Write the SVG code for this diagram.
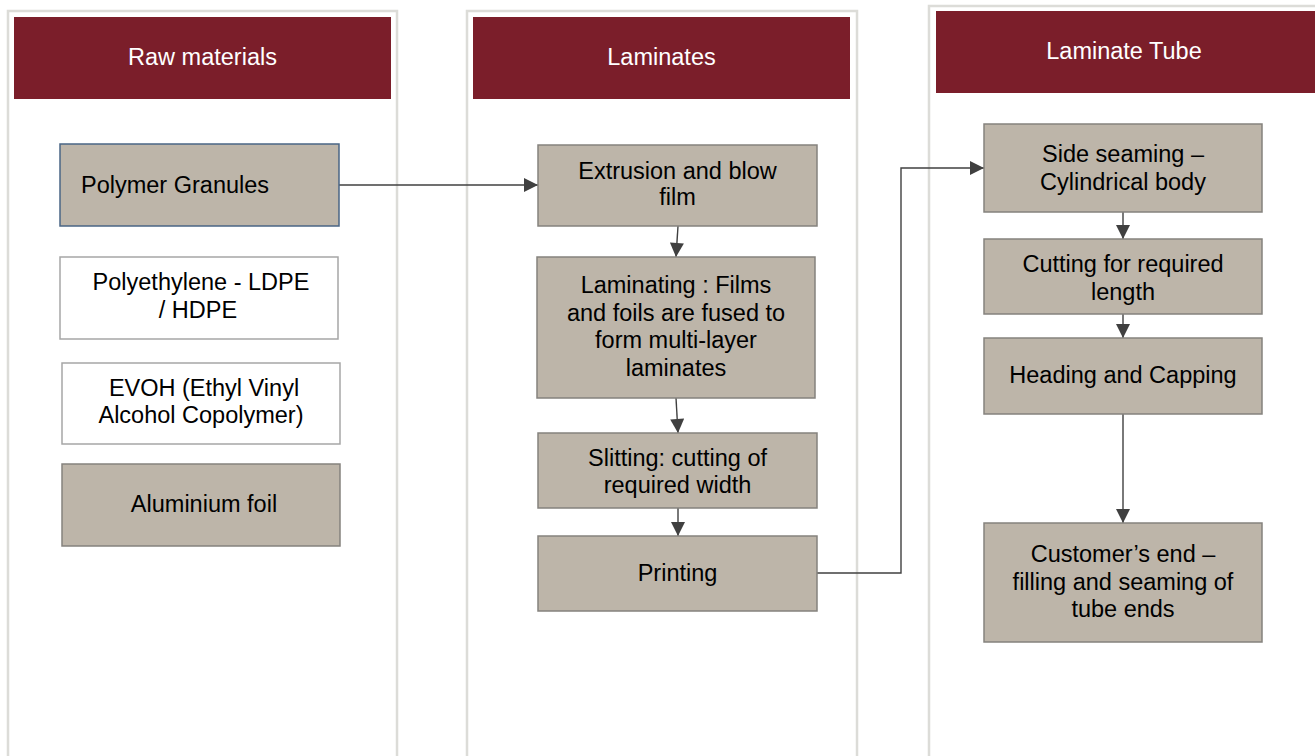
<svg xmlns="http://www.w3.org/2000/svg" width="1315" height="756" viewBox="0 0 1315 756">
<style>
.frame{fill:#ffffff;stroke:#dcdcd8;stroke-width:2.5}
.hdr{fill:#7b1e2a}
.htxt{font-family:"Liberation Sans",Arial,sans-serif;font-size:23.5px;fill:#ffffff;text-anchor:middle}
.box{fill:#bdb5a9;stroke:#85827e;stroke-width:1.5}
.wbox{fill:#ffffff;stroke:#a6a6a6;stroke-width:1.5}
.bbox{fill:#bdb5a9;stroke:#4a6585;stroke-width:1.5}
.txt{font-family:"Liberation Sans",Arial,sans-serif;font-size:23.5px;fill:#000000;text-anchor:middle}
.conn{fill:none;stroke:#404040;stroke-width:1.4}
</style>
<defs>
<marker id="ah" viewBox="0 0 10 10" refX="10" refY="5" markerWidth="15" markerHeight="14" markerUnits="userSpaceOnUse" orient="auto">
<path d="M0,0 L10,5 L0,10 z" fill="#404040"/>
</marker>
</defs>
<rect width="1315" height="756" fill="#ffffff"/>
<g id="col-raw">
<rect class="frame" x="8" y="11" width="389" height="760"/>
<rect class="hdr" x="14" y="17" width="377" height="82"/>
<text class="htxt" x="202.5" y="65">Raw materials</text>
</g>
<g id="col-laminates">
<rect class="frame" x="467" y="11" width="390" height="760"/>
<rect class="hdr" x="473" y="17" width="377" height="82"/>
<text class="htxt" x="661.5" y="65">Laminates</text>
</g>
<g id="col-tube">
<rect class="frame" x="929" y="6" width="400" height="770"/>
<rect class="hdr" x="936" y="11" width="380" height="82"/>
<text class="htxt" x="1124" y="59">Laminate Tube</text>
</g>
<g id="connectors">
<line class="conn" x1="339" y1="185" x2="538" y2="185" marker-end="url(#ah)"/>
<line class="conn" x1="678" y1="226" x2="676" y2="257" marker-end="url(#ah)"/>
<line class="conn" x1="676" y1="398" x2="678" y2="433" marker-end="url(#ah)"/>
<line class="conn" x1="678" y1="508" x2="678" y2="536" marker-end="url(#ah)"/>
<polyline class="conn" points="817,573 901,573 901,168 984,168" marker-end="url(#ah)"/>
<line class="conn" x1="1123" y1="212" x2="1123" y2="239" marker-end="url(#ah)"/>
<line class="conn" x1="1123" y1="314" x2="1123" y2="338" marker-end="url(#ah)"/>
<line class="conn" x1="1123" y1="414" x2="1123" y2="523" marker-end="url(#ah)"/>
</g>
<g id="polymer-granules">
<rect class="bbox" x="60" y="144" width="279" height="82"/>
<text class="txt" x="81" y="193" style="text-anchor:start">Polymer Granules</text>
</g>
<g id="polyethylene">
<rect class="wbox" x="60" y="257" width="278" height="82"/>
<text class="txt" x="201" y="290">Polyethylene - LDPE</text>
<text class="txt" x="198" y="318">/ HDPE</text>
</g>
<g id="evoh">
<rect class="wbox" x="62" y="363" width="278" height="81"/>
<text class="txt" x="204" y="396">EVOH (Ethyl Vinyl</text>
<text class="txt" x="201" y="423">Alcohol Copolymer)</text>
</g>
<g id="aluminium">
<rect class="box" x="62" y="464" width="278" height="82"/>
<text class="txt" x="204" y="512">Aluminium foil</text>
</g>
<g id="extrusion">
<rect class="box" x="538" y="145" width="279" height="81"/>
<text class="txt" x="677.5" y="179">Extrusion and blow</text>
<text class="txt" x="677.5" y="205">film</text>
</g>
<g id="laminating">
<rect class="box" x="537" y="257" width="278" height="141"/>
<text class="txt" x="676" y="293">Laminating : Films</text>
<text class="txt" x="676" y="321">and foils are fused to</text>
<text class="txt" x="676" y="348">form multi-layer</text>
<text class="txt" x="676" y="376">laminates</text>
</g>
<g id="slitting">
<rect class="box" x="538" y="433" width="279" height="75"/>
<text class="txt" x="677.5" y="466">Slitting: cutting of</text>
<text class="txt" x="677.5" y="493">required width</text>
</g>
<g id="printing">
<rect class="box" x="538" y="536" width="279" height="75"/>
<text class="txt" x="677.5" y="581">Printing</text>
</g>
<g id="side-seaming">
<rect class="box" x="984" y="124" width="278" height="88"/>
<text class="txt" x="1123" y="162">Side seaming –</text>
<text class="txt" x="1123" y="190">Cylindrical body</text>
</g>
<g id="cutting">
<rect class="box" x="984" y="239" width="278" height="75"/>
<text class="txt" x="1123" y="272">Cutting for required</text>
<text class="txt" x="1123" y="300">length</text>
</g>
<g id="heading">
<rect class="box" x="984" y="338" width="278" height="76"/>
<text class="txt" x="1123" y="383">Heading and Capping</text>
</g>
<g id="customer">
<rect class="box" x="984" y="523" width="278" height="119"/>
<text class="txt" x="1123" y="562">Customer’s end –</text>
<text class="txt" x="1123" y="590">filling and seaming of</text>
<text class="txt" x="1123" y="617">tube ends</text>
</g>
</svg>
